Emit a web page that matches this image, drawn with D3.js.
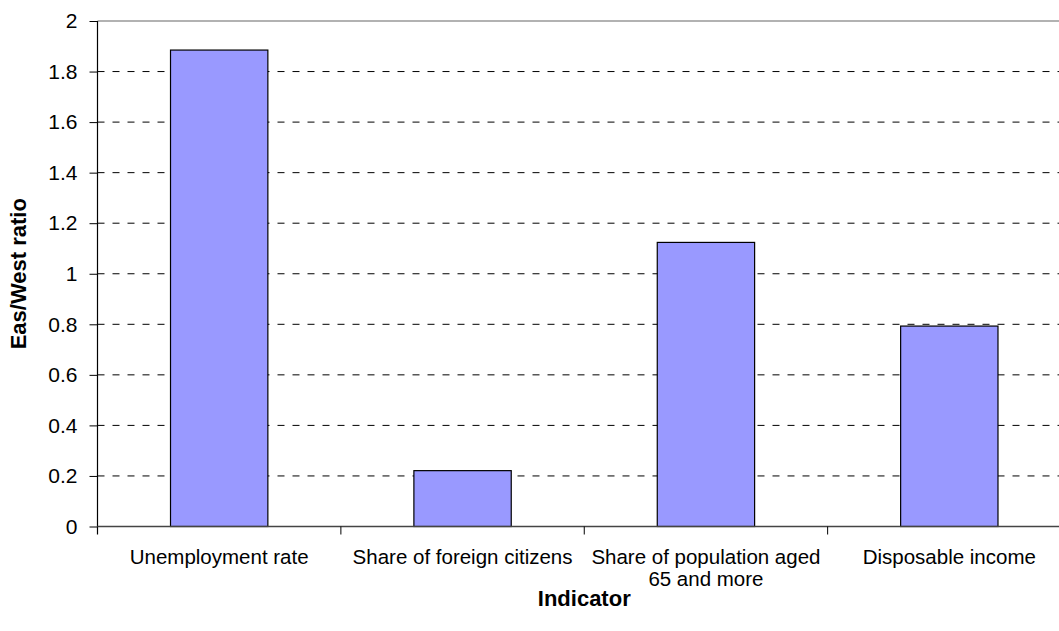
<!DOCTYPE html>
<html>
<head>
<meta charset="utf-8">
<script src="https://cdn.jsdelivr.net/npm/d3@7"></script>
<style>
  html, body { margin: 0; padding: 0; background: #fff; }
  svg { display: block; font-family: "Liberation Sans", Arial, sans-serif; }
</style>
</head>
<body>
<svg id="chart" width="1059" height="631"></svg>
<script>
// East/West ratio per indicator
const categories = [
  ["Unemployment rate"],
  ["Share of foreign citizens"],
  ["Share of population aged", "65 and more"],
  ["Disposable income"]
];
const ratios = [1.885, 0.221, 1.124, 0.793];
const yTicks = [0, 0.2, 0.4, 0.6, 0.8, 1, 1.2, 1.4, 1.6, 1.8, 2];
const yTickLabels = ["0", "0.2", "0.4", "0.6", "0.8", "1", "1.2", "1.4", "1.6", "1.8", "2"];

const svg = d3.select("#chart");
const plotLeft = 97.5, plotRight = 1071, plotTop = 21, plotBottom = 526.5;

const x = d3.scaleBand().domain(d3.range(categories.length)).range([plotLeft, plotRight]).padding(0);
const y = d3.scaleLinear().domain([0, 2]).range([plotBottom, plotTop]);
const barW = x.bandwidth() * 0.4;

// horizontal dashed gridlines
svg.append("g").selectAll("line")
  .data(yTicks.filter(v => v > 0 && v < 2))
  .join("line")
  .attr("x1", plotLeft).attr("x2", plotRight)
  .attr("y1", d => y(d)).attr("y2", d => y(d))
  .attr("stroke", "#000").attr("stroke-width", 1)
  .attr("stroke-dasharray", "7,8");

// top edge of the plot
svg.append("line")
  .attr("x1", plotLeft).attr("x2", plotRight)
  .attr("y1", y(2)).attr("y2", y(2))
  .attr("stroke", "#999").attr("stroke-width", 1.5);

// bars
svg.append("g").selectAll("rect")
  .data(ratios)
  .join("rect")
  .attr("x", (d, i) => x(i) + (x.bandwidth() - barW) / 2)
  .attr("y", d => y(d))
  .attr("width", barW)
  .attr("height", d => y(0) - y(d))
  .attr("fill", "#9999ff")
  .attr("stroke", "#000").attr("stroke-width", 1.2);

// y axis
const yAxis = d3.axisLeft(y).tickValues(yTicks)
  .tickFormat((d, i) => yTickLabels[i]).tickSize(8).tickPadding(12);
const gy = svg.append("g").attr("transform", `translate(${plotLeft},0)`).call(yAxis);
gy.select(".domain").attr("stroke", "#000").attr("stroke-width", 1.2).attr("d", `M0,${plotTop}V${plotBottom + 8}`);
gy.selectAll(".tick line").attr("stroke", "#000");
gy.selectAll("text").attr("font-size", 21).attr("fill", "#000")
  .attr("font-family", "Liberation Sans, Arial, sans-serif");

// x axis line and separators between categories
svg.append("line")
  .attr("x1", plotLeft).attr("x2", plotRight)
  .attr("y1", plotBottom).attr("y2", plotBottom)
  .attr("stroke", "#444").attr("stroke-width", 1.5);
svg.append("g").selectAll("line")
  .data(d3.range(1, categories.length + 1))
  .join("line")
  .attr("x1", i => x(i - 1) + x.bandwidth()).attr("x2", i => x(i - 1) + x.bandwidth())
  .attr("y1", plotBottom).attr("y2", plotBottom + 8)
  .attr("stroke", "#000");

// category labels
const cat = svg.append("g").selectAll("text")
  .data(categories)
  .join("text")
  .attr("x", (d, i) => x(i) + x.bandwidth() / 2)
  .attr("y", 564)
  .attr("text-anchor", "middle")
  .attr("font-size", 20.5)
  .attr("fill", "#000");
cat.each(function(lines) {
  d3.select(this).selectAll("tspan").data(lines).join("tspan")
    .attr("x", d3.select(this).attr("x"))
    .attr("dy", (d, j) => j === 0 ? 0 : 22)
    .text(d => d);
});

// axis titles
svg.append("text")
  .attr("x", (plotLeft + plotRight) / 2).attr("y", 606)
  .attr("text-anchor", "middle")
  .attr("font-size", 22).attr("font-weight", "bold")
  .text("Indicator");

svg.append("text")
  .attr("transform", `translate(26,${(plotTop + plotBottom) / 2}) rotate(-90)`)
  .attr("text-anchor", "middle")
  .attr("font-size", 22).attr("font-weight", "bold")
  .text("Eas/West ratio");
</script>
</body>
</html>
